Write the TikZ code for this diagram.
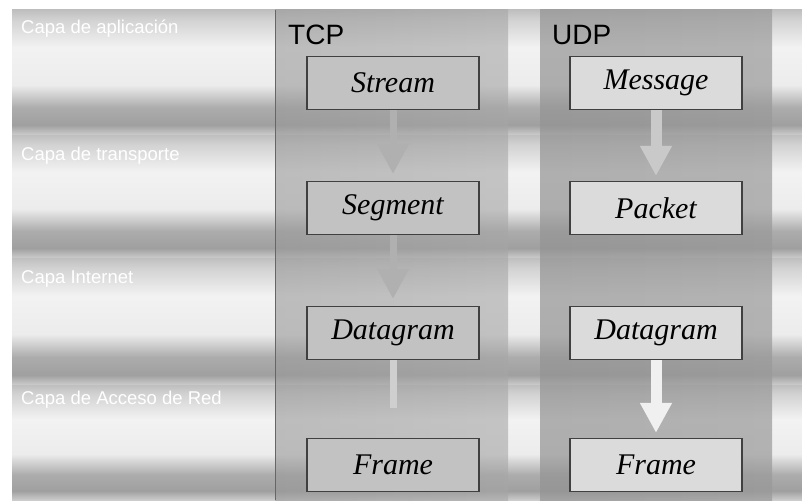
\documentclass[tikz,border=0pt]{standalone}
\usepackage{fontspec}
\setmainfont{Liberation Serif}
\setsansfont{Liberation Sans}
\usepackage{tikz}
\usetikzlibrary{arrows.meta}
\pgfdeclareverticalshading{LayerShade}{100bp}{color(0bp)=(gray!40); color(25bp)=(gray!40); color(29bp)=(gray!75); color(36bp)=(gray!65); color(45bp)=(gray!15); color(60bp)=(gray!10); color(71bp)=(gray!35); color(75bp)=(gray!50); color(100bp)=(gray!50)}

\begin{document}
\begin{tikzpicture}[
x=1pt,y=-1pt,
LayerBand/.style={shading=LayerShade},
TcpColumn/.style={left color=gray!80,middle color=gray!45,right color=gray!70,fill opacity=0.6},
UdpColumn/.style={left color=gray!85,middle color=gray!60,right color=gray!80,fill opacity=0.7},
TcpBox/.style={draw=black!75,line width=1.2pt,fill=gray!48,minimum width=172pt,minimum height=53pt,inner sep=0pt,font=\itshape\fontsize{30}{32}\selectfont},
UdpBox/.style={TcpBox,fill=gray!28},
LayerText/.style={anchor=base west,inner sep=0pt,text=white,font=\sffamily\fontsize{18.5}{21}\selectfont},
ProtoText/.style={anchor=base west,inner sep=0pt,font=\sffamily\fontsize{28}{30}\selectfont},
TcpArrow/.style={draw=gray!62,fill=gray!62,line width=7pt,-{Triangle[width=30pt,length=30pt]},shorten >=7pt},
UdpArrow/.style={draw=gray!12,fill=gray!12,line width=11pt,-{Triangle[width=30pt,length=30pt]},shorten >=5pt}
]
\useasboundingbox (0,0) rectangle (802,500);
\fill[white] (0,0) rectangle (802,500);

% layer bands
\shade[LayerBand] (12,10) rectangle (802,135);
\shade[LayerBand] (12,135) rectangle (802,258);
\shade[LayerBand] (12,258) rectangle (802,385);
\shade[LayerBand] (12,385) rectangle (802,500);

% protocol columns
\shade[TcpColumn] (275,10) rectangle (508,500);
\shade[UdpColumn] (540,10) rectangle (772,500);
\draw[black!60,line width=1pt] (275,10) -- (275,500);

\node[LayerText] (app) at (21,34) {Capa de aplicación};
\node[LayerText] (trans) at (21,160) {Capa de transporte};
\node[LayerText] (inet) at (21,283) {Capa Internet};
\node[LayerText] (red) at (21,404) {Capa de Acceso de Red};

\node[ProtoText] (tcp) at (288,45) {TCP};
\node[ProtoText] (udp) at (552,45) {UDP};

\pgfmathparse{393}		\let\Xt\pgfmathresult
\pgfmathparse{656}		\let\Xu\pgfmathresult

\node[TcpBox] (stream) at (\Xt,83) {Stream};
\node[TcpBox] (segment) at (\Xt,208) {Segment};
\node[TcpBox] (tcpdgram) at (\Xt,333) {Datagram};
\node[TcpBox] (tcpframe) at (\Xt,465) {Frame};

\node[UdpBox] (message) at (\Xu,83) {Message};
\node[UdpBox] (packet) at (\Xu,208) {Packet};
\node[UdpBox] (udpdgram) at (\Xu,333) {Datagram};
\node[UdpBox] (udpframe) at (\Xu,465) {Frame};

\draw[TcpArrow] (stream) -- (segment);
\draw[TcpArrow] (segment) -- (tcpdgram);
\draw[draw=gray!38,line width=7pt,shorten >=30pt] (tcpdgram) -- (tcpframe);

\draw[UdpArrow,draw=gray!42,fill=gray!42] (message) -- (packet);
\draw[UdpArrow] (udpdgram) -- (udpframe);

\end{tikzpicture}
\end{document}
